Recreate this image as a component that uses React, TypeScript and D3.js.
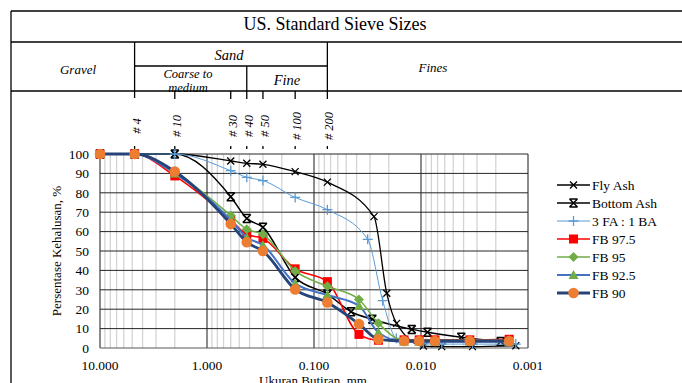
import React, { useEffect, useRef } from 'react';
import * as d3 from 'd3';

// ukuran saringan (mm) dan hidrometer
const sieveSizes = [10, 4.75, 2.0, 0.6, 0.425, 0.3, 0.15, 0.075];
const fbHydro = [0.038, 0.025, 0.0144, 0.0104, 0.0074, 0.0035, 0.0015];

const flyAshX = [...sieveSizes, 0.0275, 0.0209, 0.0169, 0.0095, 0.0064, 0.0033, 0.0013];
const flyAshY = [100, 100, 100, 96.4, 95.2, 94.7, 90.9, 85.5, 67.7, 28.2, 12.7, 1, 0.7, 0.7, 1.2];

const bottomAshX = [...sieveSizes, 0.045, 0.0285, 0.0122, 0.0087, 0.0042, 0.0018];
const bottomAshY = [100, 100, 100, 78, 66.8, 62.2, 36.4, 27.8, 18.7, 14.8, 9.6, 8.1, 5.5, 3.3];

const mixX = [...sieveSizes, 0.0315, 0.0228, 0.017, 0.0095, 0.0064, 0.0033, 0.0013];
const mixY = [100, 100, 100, 91.4, 88, 86.3, 77.6, 71.3, 56, 24.4, 5, 2.2, 2, 2, 2];

const fbX = [...sieveSizes, ...fbHydro];
const fb975 = [100, 100, 88.7, 66, 58.5, 56.5, 40.8, 34.2, 7, 4, 4.2, 4.2, 4.2, 4.2, 4.5];
const fb95 = [100, 100, 90.5, 68.3, 61.2, 58.6, 39.7, 31.8, 25, 12.7, 4, 4, 4, 4, 4];
const fb925 = [100, 100, 90, 66, 57, 53, 33.3, 27.3, 21.8, 8, 3.2, 3.2, 3.2, 3.2, 3.2];
const fb90 = [100, 100, 91, 63.9, 54.5, 50, 30.2, 23.5, 12.4, 4.5, 3.6, 3.6, 3.6, 3.6, 3.6];

const seriesNames = ['Fly Ash', 'Bottom Ash', '3 FA : 1 BA', 'FB 97.5', 'FB 95', 'FB 92.5', 'FB 90'];

const yTicks = [0, 10, 20, 30, 40, 50, 60, 70, 80, 90, 100];
const xTicks = [10, 1, 0.1, 0.01, 0.001];

const sieveNums = ['# 4', '# 10', '# 30', '# 40', '# 50', '# 100', '# 200'];
const sieveMm = [4.75, 2.0, 0.6, 0.425, 0.3, 0.15, 0.075];

const serif = '"Liberation Serif", "DejaVu Serif", serif';

const App = () => {
    const svgRef = useRef<SVGSVGElement>(null);

    useEffect(() => {
        const svg = d3.select(svgRef.current);
        svg.selectAll('*').remove();

        const x = d3.scaleLog().domain([10, 0.001]).range([100, 528]);
        const y = d3.scaleLinear().domain([0, 100]).range([348, 154]);

        // kotak header
        const head = svg.append('g').attr('stroke', '#000').attr('stroke-width', 1.3);
        head.append('line').attr('x1', 11).attr('x2', 682).attr('y1', 11).attr('y2', 11);
        head.append('line').attr('x1', 11).attr('x2', 11).attr('y1', 11).attr('y2', 383);
        head.append('line').attr('x1', 11).attr('x2', 682).attr('y1', 42).attr('y2', 42);
        head.append('line').attr('x1', 11).attr('x2', 682).attr('y1', 91).attr('y2', 91);
        head.append('line').attr('x1', x(4.75)).attr('x2', x(0.075)).attr('y1', 66).attr('y2', 66);
        head.append('line').attr('x1', x(4.75)).attr('x2', x(4.75)).attr('y1', 42).attr('y2', 98);
        head.append('line').attr('x1', x(0.075)).attr('x2', x(0.075)).attr('y1', 42).attr('y2', 99);
        head.append('line').attr('x1', x(0.425)).attr('x2', x(0.425)).attr('y1', 66).attr('y2', 99);
        [2.0, 0.6, 0.3, 0.15].forEach(v => {
            head.append('line').attr('x1', x(v)).attr('x2', x(v)).attr('y1', 91).attr('y2', 99);
        });

        const txt = (tx: number, ty: number, s: string, size: number, italic = true) =>
            svg.append('text').attr('x', tx).attr('y', ty).attr('text-anchor', 'middle')
                .attr('font-family', serif).attr('font-size', size)
                .attr('font-style', italic ? 'italic' : 'normal').attr('fill', '#000').text(s);

        txt(335, 30, 'US. Standard Sieve Sizes', 18, false);
        txt(78, 74, 'Gravel', 13);
        txt(229, 60, 'Sand', 14.5);
        txt(188, 78, 'Coarse to', 12.5);
        txt(188, 92, 'medium', 12.5);
        txt(287, 85, 'Fine', 14.5);
        txt(433, 72, 'Fines', 13);

        // label nomor saringan
        sieveNums.forEach((s, i) => {
            svg.append('text')
                .attr('transform', `translate(${x(sieveMm[i]) + 2},126) rotate(-90)`)
                .attr('text-anchor', 'middle').attr('dominant-baseline', 'central')
                .attr('font-family', serif).attr('font-size', 12.5).attr('font-style', 'italic')
                .text(s);
        });
        sieveMm.forEach((v, i) => {
            svg.append('line').attr('x1', x(v)).attr('x2', x(v))
                .attr('y1', 146).attr('y2', i === 0 ? 157 : 149)
                .attr('stroke', '#000').attr('stroke-width', 1.3);
        });

        // grid
        const minor: number[] = [];
        [1, 0.1, 0.01, 0.001].forEach(d => {
            for (let k = 2; k <= 9; k++) minor.push(d * k);
        });
        svg.append('g').selectAll('line').data(minor).enter().append('line')
            .attr('x1', d => x(d)).attr('x2', d => x(d)).attr('y1', 154).attr('y2', 348)
            .attr('stroke', '#d4d4d4').attr('stroke-width', 1.3);
        svg.append('g').selectAll('line').data(xTicks).enter().append('line')
            .attr('x1', d => x(d)).attr('x2', d => x(d)).attr('y1', 154).attr('y2', 348)
            .attr('stroke', '#8c8c8c').attr('stroke-width', 2);
        svg.append('g').selectAll('line').data(yTicks).enter().append('line')
            .attr('x1', 100).attr('x2', 528).attr('y1', d => y(d)).attr('y2', d => y(d))
            .attr('stroke', d => (d === 0 ? '#595959' : '#262626')).attr('stroke-width', 1);

        // sumbu
        svg.append('g').selectAll('text').data(yTicks).enter().append('text')
            .attr('x', 89).attr('y', d => y(d)).attr('dy', '0.35em').attr('text-anchor', 'end')
            .attr('font-family', serif).attr('font-size', 13.5).text(d => d);
        svg.append('g').selectAll('text').data(xTicks).enter().append('text')
            .attr('x', d => x(d)).attr('y', 370).attr('text-anchor', 'middle')
            .attr('font-family', serif).attr('font-size', 13.5).text(d => d3.format('.3f')(d));
        txt(313, 385, 'Ukuran Butiran, mm', 13, false);
        svg.append('text').attr('transform', 'translate(61,251) rotate(-90)')
            .attr('text-anchor', 'middle').attr('font-family', serif).attr('font-size', 13)
            .text('Persentase Kehalusan, %');

        const line = d3.line<number[]>().x(d => x(d[0])).y(d => y(d[1])).curve(d3.curveMonotoneX);
        const zip = (xs: number[], ys: number[]) => xs.map((v, i) => [v, ys[i]]);

        const cross = (g: any, s: number) => g.append('path').attr('d', `M${-s},${-s}L${s},${s}M${-s},${s}L${s},${-s}`);
        const markers: any = {
            fly: (g: any) => cross(g, 3.5).attr('stroke', '#000').attr('stroke-width', 1.3).attr('fill', 'none'),
            bottom: (g: any) => g.append('path')
                .attr('d', 'M-4,-4L4,4M-4,4L4,-4M-4,-4L4,-4M-4,4L4,4')
                .attr('stroke', '#000').attr('stroke-width', 1.5).attr('fill', 'none'),
            plus: (g: any) => g.append('path').attr('d', 'M-5,0L5,0M0,-5L0,5')
                .attr('stroke', '#5b9bd5').attr('stroke-width', 1.3),
            square: (g: any) => g.append('rect').attr('x', -4.5).attr('y', -4.5).attr('width', 9).attr('height', 9)
                .attr('fill', '#ff0000'),
            diamond: (g: any) => g.append('path').attr('d', 'M0,-5L5,0L0,5L-5,0Z').attr('fill', '#70ad47'),
            triangle: (g: any) => g.append('path').attr('d', 'M0,-5L5,4L-5,4Z').attr('fill', '#70ad47'),
            circle: (g: any) => g.append('circle').attr('r', 5.3).attr('fill', '#ed7d31'),
        };

        const series = [
            { pts: zip(flyAshX, flyAshY), color: '#000', w: 1.3, m: 'fly' },
            { pts: zip(bottomAshX, bottomAshY), color: '#000', w: 1.5, m: 'bottom' },
            { pts: zip(mixX, mixY), color: '#5b9bd5', w: 1, m: 'plus' },
            { pts: zip(fbX, fb975), color: '#ff0000', w: 1.6, m: 'square' },
            { pts: zip(fbX, fb95), color: '#70ad47', w: 1.6, m: 'diamond' },
            { pts: zip(fbX, fb925), color: '#4472c4', w: 2, m: 'triangle' },
            { pts: zip(fbX, fb90), color: '#264478', w: 2.8, m: 'circle' },
        ];

        series.forEach(s => {
            svg.append('path').attr('d', line(s.pts)).attr('fill', 'none')
                .attr('stroke', s.color).attr('stroke-width', s.w);
            s.pts.forEach(p => {
                const g = svg.append('g').attr('transform', `translate(${x(p[0])},${y(p[1])})`);
                markers[s.m](g);
            });
        });

        // legenda
        series.forEach((s, i) => {
            const ly = 185 + i * 18;
            svg.append('line').attr('x1', 557).attr('x2', 590).attr('y1', ly).attr('y2', ly)
                .attr('stroke', s.color).attr('stroke-width', s.w);
            markers[s.m](svg.append('g').attr('transform', `translate(573.5,${ly})`));
            svg.append('text').attr('x', 592).attr('y', ly).attr('dy', '0.35em')
                .attr('font-family', serif).attr('font-size', 13.5).text(seriesNames[i]);
        });
    }, []);

    return (
        <svg ref={svgRef} width={682} height={383}
            style={{ position: 'absolute', left: 0, top: 0, background: '#fff' }} />
    );
};

export default App;
